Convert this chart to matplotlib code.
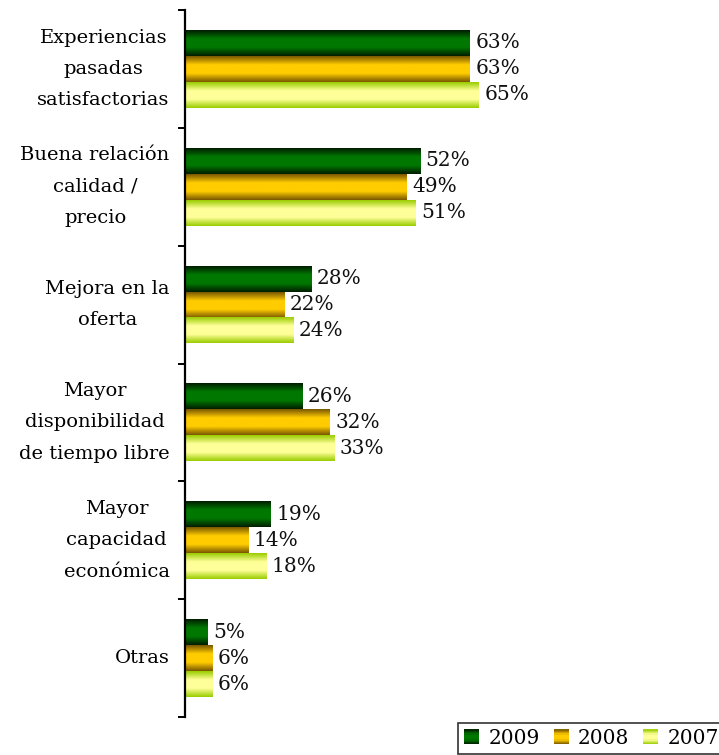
import numpy as np
import matplotlib
matplotlib.use("Agg")
import matplotlib.pyplot as plt
from matplotlib.colors import LinearSegmentedColormap
from matplotlib.patches import Rectangle
from matplotlib.legend_handler import HandlerBase

categories = ["Experiencias\npasadas\nsatisfactorias",
              "Buena relación\ncalidad /\nprecio",
              "Mejora en la\noferta",
              "Mayor\ndisponibilidad\nde tiempo libre",
              "Mayor\ncapacidad\neconómica",
              "Otras"]
years = ["2009", "2008", "2007"]
v2009 = [63, 52, 28, 26, 19, 5]
v2008 = [63, 49, 22, 32, 14, 6]
v2007 = [65, 51, 24, 33, 18, 6]
series = [v2009, v2008, v2007]

grads = [["#001e00", "#007800", "#007800", "#001e00"],
         ["#7a5800", "#ffcc00", "#ffcc00", "#7a5800"],
         ["#99cc00", "#ffff99", "#ffff99", "#99cc00"]]
cmaps = [LinearSegmentedColormap.from_list(f"g{i}", g) for i, g in enumerate(grads)]
mids = ["#007800", "#e6b800", "#ddf27a"]

FONT = "DejaVu Serif"
W, H = 719, 755
fig = plt.figure(figsize=(W / 100, H / 100), dpi=100)
ax = fig.add_axes([185 / W, 1 - 717 / H, (W - 185) / W, 707 / H])

n = len(categories)
y = np.arange(n)
bh = 0.22
xmax = (W - 185) / 4.52

for k, (vals, cmap) in enumerate(zip(series, cmaps)):
    offs = (k - 1) * bh
    bars = ax.barh(y + offs, vals, height=bh, color="none", edgecolor="none")
    for b, v in zip(bars, vals):
        x0, y0, w, h = b.get_x(), b.get_y(), b.get_width(), b.get_height()
        grad = np.linspace(0, 1, 64).reshape(-1, 1)
        ax.imshow(grad, cmap=cmap, aspect="auto", extent=[x0, x0 + w, y0 + h, y0],
                  interpolation="bilinear", zorder=2)
        ax.text(x0 + w + 1.2, y0 + h / 2, f"{v}%", va="center", ha="left",
                fontsize=14.5, family=FONT, color="#111111")

ax.set_xlim(0, xmax)
ax.set_ylim(n - 0.5, -0.5)

for s in ["top", "right", "bottom"]:
    ax.spines[s].set_visible(False)
ax.spines["left"].set_linewidth(1.6)
ax.set_xticks([])
ax.set_yticks(y)
ax.set_yticklabels(categories, family=FONT, fontsize=14, multialignment="center",
                   linespacing=1.95)
for t in ax.get_yticklabels():
    t.set_verticalalignment("center")
ax.tick_params(axis="y", which="major", length=0, pad=11)
ax.set_yticks(np.arange(-0.5, n + 0.5, 1), minor=True)
ax.tick_params(axis="y", which="minor", length=5, width=1.4, direction="out")


class GradHandler(HandlerBase):
    def __init__(self, cmap):
        super().__init__()
        self.cmap = cmap

    def create_artists(self, legend, orig_handle, xdescent, ydescent, width, height,
                       fontsize, trans):
        arts = []
        m = 12
        side = height * 1.0
        x0 = -xdescent + (width - side) / 2
        y0 = -ydescent + (height - side) / 2
        for i in range(m):
            c = self.cmap(1 - (i + 0.5) / m)
            arts.append(Rectangle((x0, y0 + side * i / m), side, side / m + 0.2,
                                  facecolor=c, edgecolor="none", transform=trans))
        return arts


handles = [Rectangle((0, 0), 1, 1, facecolor=c) for c in mids]
hmap = {h: GradHandler(cm) for h, cm in zip(handles, cmaps)}
leg = fig.legend(handles, years, ncol=3, loc="upper left",
                 bbox_to_anchor=(458 / W, 1 - 723 / H), frameon=True, fancybox=False,
                 edgecolor="black", prop={"family": FONT, "size": 14.5},
                 handlelength=0.75, handleheight=0.75, handletextpad=0.45,
                 columnspacing=0.7, borderpad=0.3, borderaxespad=0, handler_map=hmap)
leg.get_frame().set_linewidth(1.2)

fig.savefig("out.png", dpi=100)
